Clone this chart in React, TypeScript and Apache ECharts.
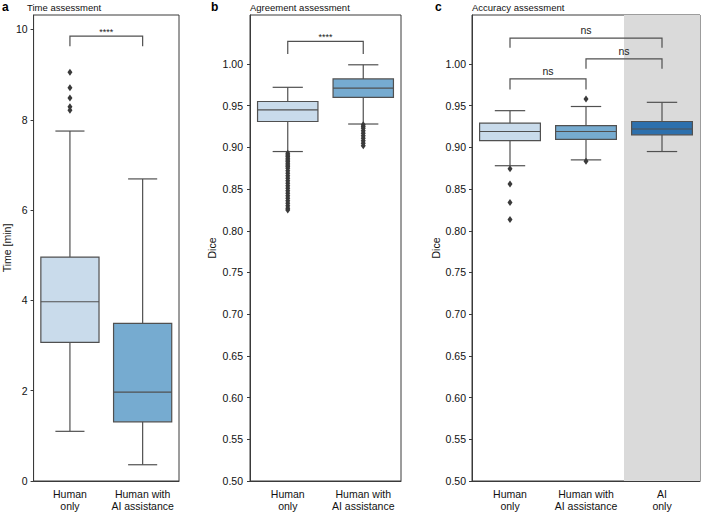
import React, { useEffect, useRef } from "react";
import * as echarts from "echarts";

// ---- data ----
const categoriesAB = ["Human\nonly", "Human with\nAI assistance"];
const categoriesC = ["Human\nonly", "Human with\nAI assistance", "AI\nonly"];

// tick labels
const timeTicks = [0, 2, 4, 6, 8, 10];
const diceTicks = [0.5, 0.55, 0.6, 0.65, 0.7, 0.75, 0.8, 0.85, 0.9, 0.95, 1.0];

// [low whisker, Q1, median, Q3, high whisker]
const timeStats = [
  [1.1, 3.07, 3.97, 4.96, 7.75],
  [0.36, 1.31, 1.97, 3.49, 6.69],
];
const timeOutliersHuman = [9.05, 8.71, 8.48, 8.29, 8.21];
const timeOutliersAI: number[] = [];

const agreementStats = [
  [0.895, 0.931, 0.945, 0.955, 0.972],
  [0.928, 0.96, 0.971, 0.982, 0.999],
];
const agreementOutliersHuman = [
  0.893, 0.891, 0.889, 0.887, 0.885, 0.883, 0.881, 0.879, 0.877, 0.875, 0.872, 0.869,
  0.866, 0.863, 0.86, 0.857, 0.854, 0.851, 0.848, 0.845, 0.842, 0.839, 0.836, 0.833,
  0.83, 0.827, 0.825,
];
const agreementOutliersAI = [0.927, 0.925, 0.923, 0.92, 0.917, 0.914, 0.911, 0.908, 0.905, 0.902];

const accuracyStats = [
  [0.878, 0.908, 0.919, 0.929, 0.944],
  [0.885, 0.9095, 0.919, 0.926, 0.949],
  [0.895, 0.915, 0.922, 0.931, 0.954],
];
const accuracyOutliersHuman = [0.8745, 0.856, 0.834, 0.8134];
const accuracyOutliersAssist = [0.958, 0.8833];
const accuracyOutliersAI: number[] = [];

// brackets: [from, to, legEnd, top]
const bracketsA = [[0, 1, 9.63, 9.85]];
const bracketTextA = ["****"];
const bracketsB = [[0, 1, 1.012, 1.027]];
const bracketTextB = ["****"];
const bracketsC = [
  [0, 1, 0.9694, 0.982],
  [1, 2, 0.9944, 1.006],
  [0, 2, 1.0194, 1.031],
];
const bracketTextC = ["ns", "ns", "ns"];

const panelTitles = ["Time assessment", "Agreement assessment", "Accuracy assessment"];
const panelLetters = ["a", "b", "c"];
const yNames = ["Time [min]", "Dice", "Dice"];

// ---- styles ----
const LIGHT = "#c9dbeb";
const MID = "#76abd0";
const DARK = "#2d70ad";
const EDGE = "#505050";
const AXIS = "#3a3a3a";
const FONT = "Liberation Sans, Arial, sans-serif";

function boxRenderer(colors: string[]) {
  return (params: any, api: any) => {
    const i = api.value(0);
    const lo = api.value(1), q1 = api.value(2), med = api.value(3), q3 = api.value(4), hi = api.value(5);
    const w = api.size([1, 0])[0] * 0.8;
    const cx = api.coord([i, med])[0];
    const y = (v: number) => api.coord([i, v])[1];
    const ls = { stroke: EDGE, lineWidth: 1.2 };
    return {
      type: "group",
      children: [
        { type: "line", shape: { x1: cx, y1: y(q3), x2: cx, y2: y(hi) }, style: ls },
        { type: "line", shape: { x1: cx, y1: y(q1), x2: cx, y2: y(lo) }, style: ls },
        { type: "line", shape: { x1: cx - w / 4, y1: y(hi), x2: cx + w / 4, y2: y(hi) }, style: ls },
        { type: "line", shape: { x1: cx - w / 4, y1: y(lo), x2: cx + w / 4, y2: y(lo) }, style: ls },
        {
          type: "rect",
          shape: { x: cx - w / 2, y: y(q3), width: w, height: y(q1) - y(q3) },
          style: { fill: colors[i], stroke: EDGE, lineWidth: 1.2 },
        },
        { type: "line", shape: { x1: cx - w / 2, y1: y(med), x2: cx + w / 2, y2: y(med) }, style: ls },
      ],
    };
  };
}

function bracketRenderer(texts: string[]) {
  return (params: any, api: any) => {
    const a = api.value(0), b = api.value(1), leg = api.value(2), top = api.value(3);
    const pA = api.coord([a, top]);
    const pB = api.coord([b, top]);
    const yLeg = api.coord([a, leg])[1];
    const t = texts[params.dataIndex];
    const isStar = t.indexOf("*") >= 0;
    return {
      type: "group",
      children: [
        {
          type: "polyline",
          shape: { points: [[pA[0], yLeg], [pA[0], pA[1]], [pB[0], pB[1]], [pB[0], yLeg]] },
          style: { stroke: EDGE, lineWidth: 1.2, fill: "none" },
        },
        {
          type: "text",
          style: {
            text: t,
            x: (pA[0] + pB[0]) / 2,
            y: pA[1] - (isStar ? 4 : 8),
            align: "center",
            verticalAlign: "middle",
            fontSize: isStar ? 9 : 10.5,
            fontFamily: FONT,
            fill: "#222",
          },
        },
      ],
    };
  };
}

export default function App() {
  const ref = useRef<HTMLDivElement>(null);
  useEffect(() => {
    if (!ref.current) return;
    const chart = echarts.init(ref.current, undefined, { renderer: "svg" });

    const grids = [
      { left: 26, top: 15, width: 153, height: 468 },
      { left: 250, top: 15, width: 151, height: 468 },
      { left: 472, top: 15, width: 228, height: 468 },
    ].map((g) => ({ ...g, show: true, borderColor: AXIS, borderWidth: 1, backgroundColor: "transparent" }));

    const xAxes = [categoriesAB, categoriesAB, categoriesC].map((cats, gi) => ({
      type: "category",
      gridIndex: gi,
      data: cats,
      axisLine: { lineStyle: { color: AXIS, width: 1 } },
      axisTick: { alignWithLabel: true, length: 3, lineStyle: { color: AXIS } },
      axisLabel: { color: "#111", fontSize: 10.5, fontFamily: FONT, lineHeight: 12, margin: 7, interval: 0 },
      splitArea:
        gi === 2
          ? { show: true, areaStyle: { color: ["rgba(0,0,0,0)", "rgba(0,0,0,0)", "#dadada"] } }
          : { show: false },
      splitLine: { show: false },
      z: 3,
    }));

    const yCommon = {
      type: "value",
      nameLocation: "middle",
      nameRotate: 90,
      nameTextStyle: { color: "#111", fontSize: 10.5, fontFamily: FONT },
      axisLine: { show: true, lineStyle: { color: AXIS, width: 1 } },
      splitLine: { show: false },
    };
    const yAxes = [
      {
        ...yCommon,
        gridIndex: 0,
        min: 0,
        max: 10.32,
        interval: 2,
        name: yNames[0],
        nameGap: 14,
        axisTick: { show: true, length: 3, lineStyle: { color: AXIS }, customValues: timeTicks },
        axisLabel: { color: "#111", fontSize: 10.5, fontFamily: FONT, margin: 6, customValues: timeTicks },
      },
      {
        ...yCommon,
        gridIndex: 1,
        min: 0.5,
        max: 1.0587,
        interval: 0.05,
        name: yNames[1],
        nameGap: 33,
        axisTick: { show: true, length: 3, lineStyle: { color: AXIS }, customValues: diceTicks },
        axisLabel: {
          color: "#111",
          fontSize: 10.5,
          fontFamily: FONT,
          margin: 7,
          customValues: diceTicks,
          formatter: (v: number) => v.toFixed(2),
        },
      },
      {
        ...yCommon,
        gridIndex: 2,
        min: 0.5,
        max: 1.0587,
        interval: 0.05,
        name: yNames[2],
        nameGap: 31,
        axisTick: { show: true, length: 3, lineStyle: { color: AXIS }, customValues: diceTicks },
        axisLabel: {
          color: "#111",
          fontSize: 10.5,
          fontFamily: FONT,
          margin: 6,
          customValues: diceTicks,
          formatter: (v: number) => v.toFixed(2),
        },
      },
    ];

    const boxSeries = (stats: number[][], colors: string[], gi: number) => ({
      type: "custom",
      xAxisIndex: gi,
      yAxisIndex: gi,
      renderItem: boxRenderer(colors),
      data: stats.map((s, i) => [i, ...s]),
      encode: { x: 0, y: [1, 2, 3, 4, 5] },
      z: 4,
      clip: false,
    });
    const outlierSeries = (groups: number[][], gi: number) => ({
      type: "scatter",
      xAxisIndex: gi,
      yAxisIndex: gi,
      symbol: "diamond",
      symbolSize: [5, 7],
      itemStyle: { color: "#3a3a3a", opacity: 1 },
      data: groups.flatMap((vals, i) => vals.map((v) => [i, v])),
      z: 5,
    });
    const bracketSeries = (br: number[][], texts: string[], gi: number) => ({
      type: "custom",
      xAxisIndex: gi,
      yAxisIndex: gi,
      renderItem: bracketRenderer(texts),
      data: br,
      encode: { x: [0, 1], y: [2, 3] },
      z: 6,
      clip: false,
    });

    const titleGraphics: any[] = [];
    const letterX = [2, 211, 435];
    const titleX = [27, 250, 472];
    for (let i = 0; i < 3; i++) {
      titleGraphics.push({
        type: "text",
        left: letterX[i],
        top: 1,
        style: { text: panelLetters[i], fontSize: 12, fontWeight: "bold", fontFamily: FONT, fill: "#000" },
      });
      titleGraphics.push({
        type: "text",
        left: titleX[i],
        top: 2,
        style: { text: panelTitles[i], fontSize: 9.5, fontFamily: FONT, fill: "#111" },
      });
    }

    chart.setOption({
      animation: false,
      backgroundColor: "#fff",
      textStyle: { fontFamily: FONT },
      grid: grids,
      xAxis: xAxes,
      yAxis: yAxes,
      graphic: titleGraphics,
      series: [
        boxSeries(timeStats, [LIGHT, MID], 0),
        outlierSeries([timeOutliersHuman, timeOutliersAI], 0),
        bracketSeries(bracketsA, bracketTextA, 0),
        boxSeries(agreementStats, [LIGHT, MID], 1),
        outlierSeries([agreementOutliersHuman, agreementOutliersAI], 1),
        bracketSeries(bracketsB, bracketTextB, 1),
        boxSeries(accuracyStats, [LIGHT, MID, DARK], 2),
        outlierSeries([accuracyOutliersHuman, accuracyOutliersAssist, accuracyOutliersAI], 2),
        bracketSeries(bracketsC, bracketTextC, 2),
      ],
    });
    return () => chart.dispose();
  }, []);
  return <div ref={ref} style={{ position: "fixed", left: 0, top: 0, width: 701, height: 512 }} />;
}
